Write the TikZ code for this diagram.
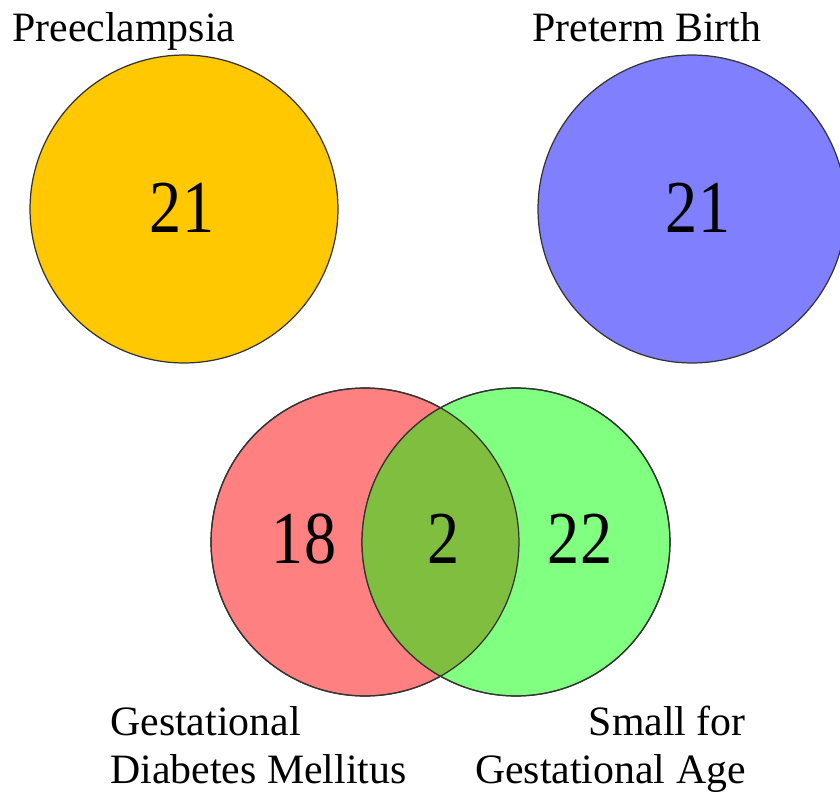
\documentclass[tikz,border=0pt]{standalone}
\usepackage{fontspec}
\setmainfont{Liberation Serif}
\definecolor{peyellow}{RGB}{255,200,0}
\definecolor{ptblue}{RGB}{128,128,255}
\definecolor{gdmred}{RGB}{255,128,128}
\definecolor{sgagreen}{RGB}{128,255,128}
\definecolor{bothgreen}{RGB}{128,190,64}
\newcommand{\setcount}[1]{\scalebox{.86}[1]{#1}}

\begin{document}
\begin{tikzpicture}[x=0.02cm,y=-0.02cm,
	setcircle/.style={ circle, draw=black!80, line width=0.7pt, inner sep=0pt, minimum size=6.16cm },
	count/.style={ font=\fontsize{42.5}{42.5}\selectfont, inner sep=0pt },
	setlabel/.style={ font=\fontsize{23.8}{23.8}\selectfont, inner sep=0pt }
]
\useasboundingbox (0,0) rectangle (840,799);

\node at (184,209) (pe) [setcircle,fill=peyellow] {};
\node at (692,209) (pt) [setcircle,fill=ptblue] {};
\node at (365,542) (gdm) [setcircle,fill=gdmred] {};
\node at (516,542) (sga) [setcircle,fill=sgagreen] {};
\begin{scope}
	\clip (gdm.center) circle [radius=3.08cm];
	\fill [bothgreen] (sga.center) circle [radius=3.08cm];
\end{scope}
\foreach \s in {gdm,sga} \draw [black!80,line width=0.7pt] (\s.center) circle [radius=3.08cm];

\node at (182,208) (npe) [count] {\setcount{21}};
\node at (698,208) (npt) [count] {\setcount{21}};
\node at (304,539) (ngdm) [count] {\setcount{18}};
\node at (444,539) (nboth) [count] {\setcount{2}};
\node at (580,539) (nsga) [count] {\setcount{22}};

\node at (12,41) (lpe) [setlabel,anchor=base west] {Preeclampsia};
\node at (532,41) (lpt) [setlabel,anchor=base west] {Preterm Birth};
\node at (110,735) (lgdm) [setlabel,anchor=base west] {Gestational};
\node at (110,783) (lgdm2) [setlabel,anchor=base west] {Diabetes Mellitus};
\node at (746,735) (lsga) [setlabel,anchor=base east] {Small for};
\node at (746,783) (lsga2) [setlabel,anchor=base east] {Gestational Age};

\end{tikzpicture}
\end{document}
